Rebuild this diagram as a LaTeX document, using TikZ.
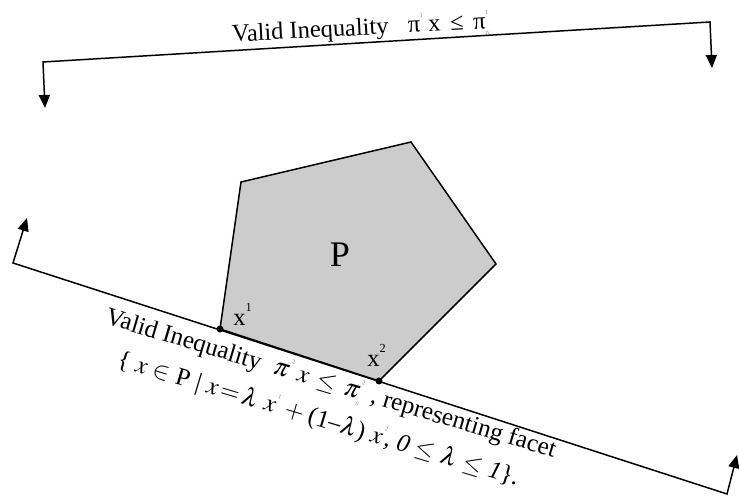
\documentclass[tikz,border=0pt]{standalone}
\usepackage{mathptmx}
\usepackage{fontspec}
\setmainfont{Liberation Serif}
\usetikzlibrary{arrows.meta}

% tiny indices, as faint as in the figure
\newcommand{\tsup}[1]{\raisebox{1.3ex}{\fontsize{3.5}{4}\selectfont\color{gray}#1}}
\newcommand{\tsupsub}[2]{\raisebox{1.3ex}{\fontsize{3.5}{4}\selectfont\color{gray}#1}\hspace{-0.15em}\raisebox{-0.6ex}{\fontsize{3.5}{4}\selectfont\color{gray}#2}}
\newcommand{\wsp}{\hspace{0.27em}}

\tikzset{
  ineq/.style={line width=0.85pt, {Triangle[length=0.26cm,width=0.22cm]}-{Triangle[length=0.26cm,width=0.22cm]}},
  polytope/.style={draw, line width=0.85pt, fill=black!20, line join=miter},
  vertexdot/.style={circle, fill=black, inner sep=0pt, minimum size=0.14cm},
  lbl/.style={inner sep=0pt, font=\fontsize{13.9}{16}\selectfont},
  facetlbl/.style={inner sep=0pt, anchor=base west, rotate=-16.6, font=\fontsize{14.3}{16}\selectfont}
}

\begin{document}
\begin{tikzpicture}

\useasboundingbox (0,0) rectangle (14.78,9.94);

% Polytope P
\coordinate (x1) at (4.40,3.36);
\coordinate (v2) at (4.82,6.30);
\coordinate (v3) at (8.22,7.10);
\coordinate (v4) at (9.92,4.66);
\coordinate (x2) at (7.58,2.32);
\filldraw[polytope] (x1) -- (v2) -- (v3) -- (v4) -- (x2) -- cycle;
\node[font=\fontsize{20.5}{24}\selectfont] (P) at (6.80,4.84) {P};

% Valid inequality above
\coordinate (topLtip) at (0.90,7.78);
\coordinate (topL) at (0.86,8.70);
\coordinate (topR) at (14.20,9.50);
\coordinate (topRtip) at (14.24,8.58);
\draw[ineq] (topLtip) -- (topL) -- (topR) -- (topRtip);
\node[lbl, anchor=base west, rotate=3] (toptext) at (4.64,9.10)
  {Valid Inequality\hspace{0.8em}π\tsup{1}\hspace{0.2em}x\hspace{0.4em}≤\hspace{0.4em}π\tsupsub{1}{0}};

% Facet defining inequality
\coordinate (botLtip) at (0.54,5.58);
\coordinate (botL) at (0.26,4.68);
\coordinate (botR) at (14.54,0.06);
\coordinate (botRtip) at (14.74,0.84);
\draw[ineq] (botLtip) -- (botL) -- (botR) -- (botRtip);

\node[vertexdot] (d1) at (x1) {};
\node[vertexdot] (d2) at (x2) {};
\node[lbl, anchor=base west] (x1lbl) at (4.66,3.42) {x\tsup{\fontsize{7}{8}\selectfont\color{black}1}};
\node[lbl, anchor=base west] (x2lbl) at (7.34,2.60) {x\tsup{\fontsize{7}{8}\selectfont\color{black}2}};

\node[facetlbl] (facet1) at (2.08,3.47)
  {Valid Inequality\hspace{0.55em}$\pi$\tsup{2}\hspace{0.25em}$x$\hspace{0.35em}$\le$\hspace{0.35em}$\pi$\tsupsub{2}{0}\hspace{0.4em}, representing facet};
\node[facetlbl] (facet2) at (2.32,2.62)
  {\{\wsp$x$\wsp$\in$\wsp P\wsp|\wsp$x\,{=}\,\lambda$\wsp$x$\tsup{1}\wsp$+$\hspace{0.2em}(1–$\lambda$)\wsp$x$\tsup{2}, \textit{0}\wsp$\le$\wsp$\lambda$\wsp$\le$\wsp\textit{1}\}.};

\end{tikzpicture}
\end{document}
